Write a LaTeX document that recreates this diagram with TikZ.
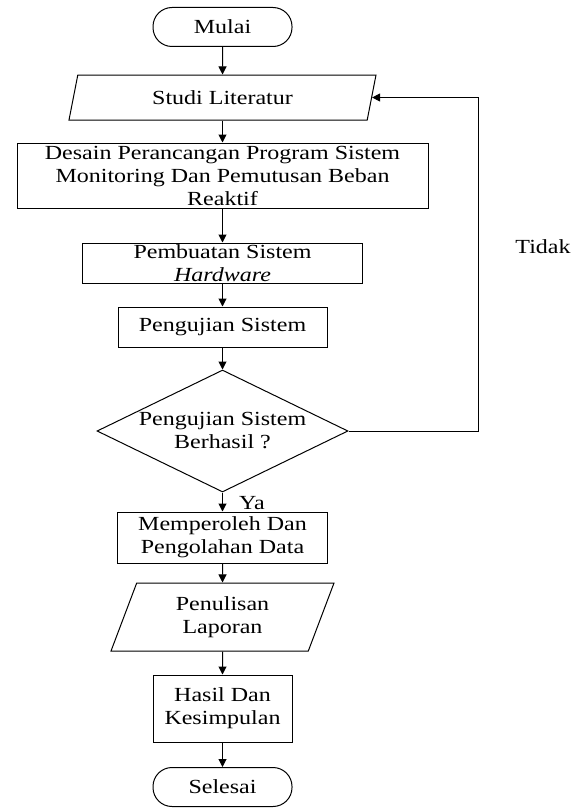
\documentclass[tikz,border=0pt]{standalone}
\usepackage{fontspec}
\setmainfont{Liberation Serif}[FakeStretch=1.2]
\usetikzlibrary{arrows.meta, shapes.geometric, positioning}

\tikzset{
  flowline/.style={line width=1pt, -{Triangle[length=8pt, width=8pt]}},
  terminal/.style={draw, line width=1pt, rounded corners=19pt,
        minimum width=139pt, minimum height=39pt, inner sep=0pt, align=center},
  prosesbox/.style={draw, line width=1pt, rectangle, inner sep=0pt, align=center},
  datainput/.style={draw, line width=1pt, trapezium, trapezium left angle=58,
        trapezium right angle=122, trapezium stretches body, inner sep=0pt, align=center},
  keputusan/.style={draw, line width=1pt, diamond, aspect=2.06, inner sep=0pt, align=center},
}

\begin{document}
\begin{tikzpicture}[x=1pt, y=-1pt, font=\fontsize{20}{23}\selectfont]
  \useasboundingbox (0,0) rectangle (580,808);

  % langkah-langkah utama
  \node[terminal] (mulai) at (222.5,27) {Mulai};
  \node[datainput, minimum width=307pt, minimum height=45pt] (studi) at (222.5,97.5) {Studi Literatur};
  \node[prosesbox, minimum width=411pt, minimum height=65pt] (desain) at (222.5,175.5)
    {Desain Perancangan Program Sistem\\Monitoring Dan Pemutusan Beban\\Reaktif};
  \node[prosesbox, minimum width=280pt, minimum height=40pt] (hardware) at (222.5,263)
    {Pembuatan Sistem\\\textit{Hardware}};
  \node[prosesbox, minimum width=209pt, minimum height=40pt] (uji) at (222.5,327) {Pengujian Sistem};
  \node[keputusan, minimum width=251pt, minimum height=122pt] (cek) at (222.5,431)
    {Pengujian Sistem\\Berhasil ?};
  \node[prosesbox, minimum width=210pt, minimum height=51pt] (data) at (222.5,537.5)
    {Memperoleh Dan\\Pengolahan Data};
  \node[datainput, minimum width=223pt, minimum height=68pt] (laporan) at (222.5,617)
    {Penulisan\\Laporan};
  \node[prosesbox, minimum width=139pt, minimum height=67pt] (hasil) at (222.5,708.5)
    {Hasil Dan\\Kesimpulan};
  \node[terminal] (selesai) at (222.5,787) {Selesai};

  % label cabang
  \node (tidak) at (543,247) {Tidak};
  \node (ya) at (252,503) {Ya};
  \coordinate (balik) at (478,431);

  % alur
  \draw[flowline] (mulai) -- (studi);
  \draw[flowline] (studi) -- (desain);
  \draw[flowline] (desain) -- (hardware);
  \draw[flowline] (hardware) -- (uji);
  \draw[flowline] (uji) -- (cek);
  \draw[flowline] (cek) -- (data);
  \draw[flowline] (data) -- (laporan);
  \draw[flowline] (laporan) -- (hasil);
  \draw[flowline] (hasil) -- (selesai);
  \draw[flowline] (cek.east) -- (balik) |- (studi.east);
\end{tikzpicture}
\end{document}
